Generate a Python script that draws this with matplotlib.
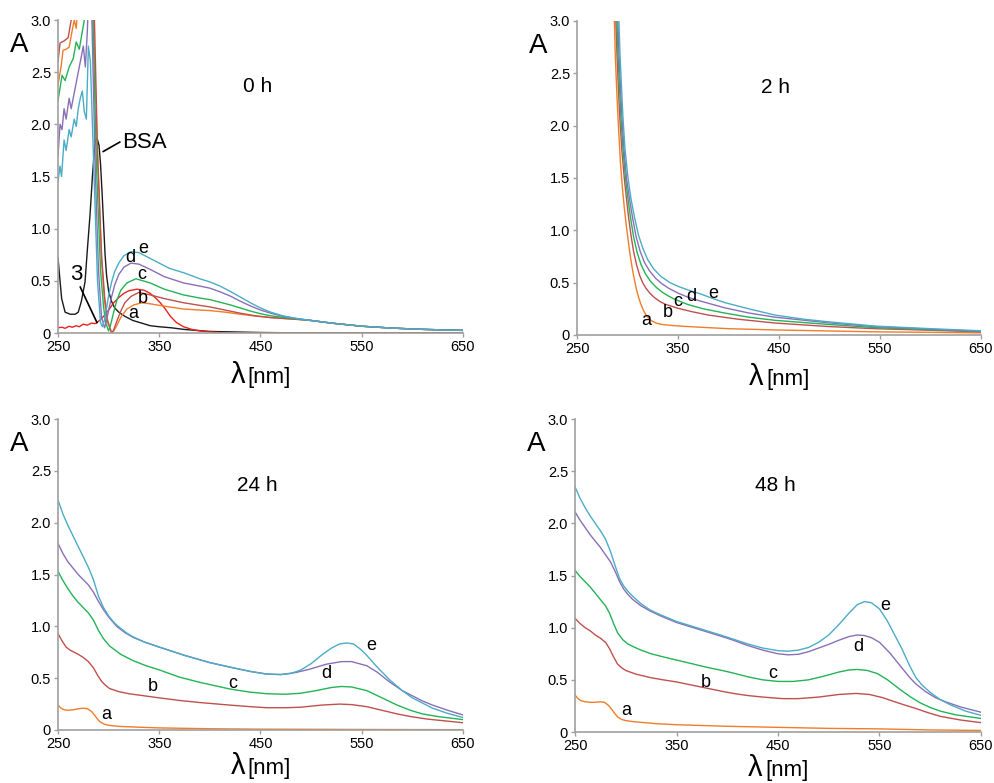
import matplotlib
matplotlib.use('Agg')
import matplotlib.pyplot as plt

plt.rcParams['font.family'] = ['Liberation Sans', 'DejaVu Sans']

# colours of the series (a..e, compound 3, BSA)
col_a = '#F07D28'
col_b = '#C0504D'
col_c = '#22B455'
col_d = '#8A6FB8'
col_e = '#4BACC6'
col_3 = '#E8231F'
col_bsa = '#1A1A1A'

xticks = [250, 350, 450, 550, 650]
yticks = [0, 0.5, 1.0, 1.5, 2.0, 2.5, 3.0]
ytick_labels = ['0', '0.5', '1.0', '1.5', '2.0', '2.5', '3.0']

# shared tail of the 0 h curves (500-650 nm)
h0_tail_nm = [520, 550, 580, 610, 650]
h0_tail_abs = [0.095, 0.065, 0.047, 0.035, 0.025]

# ---- 0 h ----
h0_a_nm = [250, 253, 255, 258, 261, 264, 266, 268, 270, 275, 280, 285, 289, 293, 296, 299, 303, 305, 308, 312, 318,
           325, 333, 341, 350, 360, 374, 390, 400, 415, 430, 445, 460, 475, 490, 500] + h0_tail_nm
h0_a_abs = [2.38, 2.55, 2.71, 2.72, 2.74, 2.9, 3.0, 2.92, 3.2, 3.2, 3.2, 3.0, 1.7, 0.7, 0.3, 0.1, 0.0, 0.02, 0.07, 0.15, 0.23,
            0.27, 0.29, 0.28, 0.265, 0.25, 0.23, 0.22, 0.215, 0.2, 0.18, 0.162, 0.148, 0.138, 0.128, 0.12] + h0_tail_abs
h0_b_nm = [250, 252, 256, 260, 263, 265, 284, 286, 289, 293, 296, 299, 303, 305, 308, 312, 316, 322, 330, 341, 355, 374,
           390, 400, 415, 430, 445, 460, 475, 490, 500] + h0_tail_nm
h0_b_abs = [2.6, 2.78, 2.8, 2.83, 3.0, 3.2, 3.2, 3.0, 1.75, 0.75, 0.35, 0.12, 0.0, 0.03, 0.11, 0.21, 0.29, 0.35, 0.39, 0.365, 0.33, 0.29,
            0.265, 0.25, 0.22, 0.19, 0.165, 0.148, 0.138, 0.128, 0.12] + h0_tail_abs
h0_c_nm = [250, 254, 257, 261, 265, 268, 271, 274, 276, 278, 283, 284.5, 288, 292, 295, 297, 300, 302, 305, 308, 312,
           318, 327, 341, 355, 374, 390, 400, 410, 420, 430, 440, 450, 460, 472, 485, 500] + h0_tail_nm
h0_c_abs = [2.23, 2.47, 2.42, 2.55, 2.63, 2.79, 2.72, 2.89, 3.0, 3.2, 3.2, 3.0, 1.6, 0.6, 0.25, 0.1, 0.02, 0.08, 0.2, 0.31, 0.41,
            0.48, 0.52, 0.48, 0.42, 0.365, 0.335, 0.32, 0.295, 0.27, 0.24, 0.21, 0.185, 0.165, 0.15, 0.135, 0.12] + h0_tail_abs
h0_d_nm = [250, 252, 254, 256, 258, 261, 263, 266, 269, 272, 275, 277, 279, 280, 282, 283.5, 287, 290, 293, 296,
           298, 300, 303, 306, 310, 315, 322, 330, 341, 355, 374, 390, 400, 410, 420, 430, 440, 450, 460, 472, 485, 500] + h0_tail_nm
h0_d_abs = [1.7, 2.0, 1.95, 2.15, 2.05, 2.25, 2.15, 2.3, 2.45, 2.6, 2.75, 2.55, 2.9, 3.2, 3.2, 3.0, 1.5, 0.6, 0.15, 0.05,
            0.12, 0.22, 0.35, 0.46, 0.56, 0.63, 0.67, 0.66, 0.61, 0.54, 0.48, 0.45, 0.43, 0.395, 0.355, 0.305, 0.26, 0.22,
            0.19, 0.16, 0.14, 0.12] + h0_tail_abs
h0_e_nm = [250, 252, 253.5, 256, 258, 261, 263, 266, 268, 270, 272, 274, 276, 278, 280, 282, 286, 289, 292, 294,
           296, 298, 300, 303, 306, 310, 315, 322, 330, 340, 350, 360, 375, 390, 400, 410, 420, 430, 440, 450, 460, 472,
           485, 500] + h0_tail_nm
h0_e_abs = [1.45, 1.6, 1.5, 1.85, 1.75, 1.95, 1.88, 2.05, 1.98, 2.15, 2.25, 2.32, 2.12, 2.05, 2.75, 2.6, 1.4, 0.5, 0.1, 0.06,
            0.13, 0.24, 0.36, 0.49, 0.59, 0.67, 0.74, 0.78, 0.77, 0.72, 0.67, 0.62, 0.575, 0.52, 0.49, 0.45, 0.40, 0.345,
            0.29, 0.24, 0.2, 0.165, 0.14, 0.12] + h0_tail_abs
h0_3_nm = [250, 254, 257, 261, 264, 268, 271, 275, 279, 283, 287, 291, 296, 300, 305, 310, 315, 320, 328, 335, 341,
           346, 351, 356, 361, 367, 374, 382, 390, 400, 410, 450, 650]
h0_3_abs = [0.05, 0.055, 0.045, 0.065, 0.055, 0.07, 0.06, 0.085, 0.075, 0.095, 0.09, 0.12, 0.17, 0.22, 0.29, 0.34, 0.38, 0.405,
            0.42, 0.41, 0.38, 0.34, 0.29, 0.23, 0.16, 0.10, 0.06, 0.035, 0.02, 0.01, 0.004, 0.0, 0.0]
h0_bsa_nm = [250, 252, 253.6, 257, 262, 267, 270, 273, 276.7, 279, 281.6, 284, 286.5, 288.5, 290.5, 292, 293.5, 295, 296.5,
             298, 300, 303, 306, 310, 316, 324, 332.6, 341, 350, 362, 374, 400, 450, 500, 650]
h0_bsa_abs = [0.72, 0.5, 0.33, 0.2, 0.18, 0.18, 0.2, 0.3, 0.49, 0.8, 1.13, 1.5, 1.83, 1.87, 1.8, 1.62, 1.35, 1.05, 0.75,
              0.55, 0.40, 0.3, 0.24, 0.2, 0.16, 0.12, 0.095, 0.07, 0.06, 0.05, 0.035, 0.015, 0.005, 0.0, 0.0]

# ---- 2 h ----
h2_a_nm = [287, 288, 289.5, 291, 293, 295, 297, 299, 301, 303, 305, 307, 309, 311, 313, 316, 319, 323, 328, 334, 345,
           357, 380, 400, 446, 500, 545, 600, 650]
h2_a_abs = [3.0, 2.65, 2.3, 2.0, 1.65, 1.4, 1.2, 1.03, 0.88, 0.74, 0.62, 0.52, 0.43, 0.36, 0.3, 0.23, 0.18, 0.14, 0.115,
            0.1, 0.09, 0.082, 0.07, 0.06, 0.048, 0.038, 0.03, 0.025, 0.02]
h2_b_nm = [288.5, 289.5, 291, 292.5, 294.5, 297, 299, 301, 303.5, 306, 309, 312, 315, 318, 322, 327, 332, 337, 350, 365,
           380, 410, 446, 500, 545, 600, 650]
h2_b_abs = [3.0, 2.7, 2.35, 2.05, 1.75, 1.48, 1.3, 1.13, 0.95, 0.8, 0.67, 0.57, 0.5, 0.45, 0.4, 0.355, 0.32, 0.295, 0.255,
            0.22, 0.19, 0.15, 0.114, 0.08, 0.06, 0.045, 0.03]
h2_c_nm = [289.5, 290.5, 292, 293.5, 295.5, 298, 300.5, 303, 306, 309.5, 313.5, 318, 323, 329, 335, 341, 347, 360, 375,
           396, 420, 446, 500, 545, 600, 650]
h2_c_abs = [3.0, 2.7, 2.38, 2.08, 1.78, 1.5, 1.3, 1.12, 0.94, 0.79, 0.67, 0.58, 0.51, 0.45, 0.405, 0.37, 0.34, 0.29, 0.25,
            0.21, 0.17, 0.14, 0.1, 0.07, 0.05, 0.035]
h2_d_nm = [290.5, 291.5, 293, 294.5, 296.5, 299, 302, 305, 308.5, 312.5, 317, 322, 328, 334, 341, 350, 360, 370, 383, 396,
           420, 446, 500, 545, 600, 650]
h2_d_abs = [3.0, 2.7, 2.38, 2.08, 1.78, 1.5, 1.3, 1.12, 0.94, 0.8, 0.69, 0.61, 0.54, 0.49, 0.445, 0.4, 0.36, 0.33, 0.295,
            0.26, 0.21, 0.17, 0.115, 0.08, 0.055, 0.035]
h2_e_nm = [291.5, 292.5, 294, 295.5, 297.5, 300.5, 303.5, 307, 311, 315.5, 320, 326, 333, 342, 350, 357, 365, 373, 384,
           396, 420, 446, 475, 500, 545, 600, 650]
h2_e_abs = [3.0, 2.7, 2.38, 2.08, 1.78, 1.5, 1.3, 1.12, 0.95, 0.82, 0.72, 0.63, 0.56, 0.5, 0.465, 0.44, 0.415, 0.39, 0.35,
            0.31, 0.25, 0.19, 0.15, 0.125, 0.085, 0.06, 0.04]

# ---- 24 h ----
h24_a_nm = [250, 253, 256, 260, 265, 270, 275, 279, 283, 286, 289, 292, 296, 300, 310, 330, 350, 400, 450, 550, 650]
h24_a_abs = [0.24, 0.21, 0.195, 0.19, 0.195, 0.205, 0.21, 0.205, 0.18, 0.145, 0.105, 0.075, 0.055, 0.045, 0.035, 0.027,
             0.02, 0.012, 0.008, 0.005, 0.003]
h24_b_nm = [250, 254, 258, 262, 266, 270, 275, 280, 285, 289, 293, 297, 301, 310, 320, 335, 350, 370, 390, 420, 440, 456,
            475, 490, 510, 528, 540, 555, 570, 585, 598, 615, 630, 650]
h24_b_abs = [0.93, 0.86, 0.80, 0.77, 0.75, 0.73, 0.70, 0.66, 0.60, 0.53, 0.47, 0.43, 0.40, 0.37, 0.35, 0.33, 0.31, 0.285,
             0.265, 0.24, 0.225, 0.215, 0.215, 0.22, 0.24, 0.25, 0.245, 0.225, 0.19, 0.155, 0.13, 0.105, 0.09, 0.07]
h24_c_nm = [250, 255, 260, 265, 270, 275, 280, 285, 290, 295, 301, 312, 324, 337, 350, 370, 390, 420, 440, 456, 475, 490,
            505, 520, 530, 540, 555, 570, 585, 598, 610, 625, 650]
h24_c_abs = [1.53, 1.44, 1.36, 1.29, 1.23, 1.18, 1.13, 1.06, 0.96, 0.88, 0.81, 0.73, 0.67, 0.62, 0.58, 0.51, 0.46, 0.395,
             0.365, 0.35, 0.345, 0.355, 0.38, 0.41, 0.42, 0.415, 0.38, 0.31, 0.24, 0.19, 0.155, 0.13, 0.10]
h24_d_nm = [250, 255, 260, 265, 270, 275, 280, 285, 290, 295, 300, 308, 316, 324, 335, 350, 375, 400, 423, 440, 456, 470,
            485, 498, 515, 530, 540, 555, 565, 578, 590, 600, 610, 620, 635, 650]
h24_d_abs = [1.80, 1.70, 1.62, 1.56, 1.50, 1.45, 1.40, 1.33, 1.24, 1.16, 1.09, 1.0, 0.94, 0.895, 0.85, 0.80, 0.72, 0.65,
             0.60, 0.565, 0.54, 0.535, 0.555, 0.585, 0.635, 0.66, 0.66, 0.62, 0.56, 0.46, 0.38, 0.33, 0.28, 0.24, 0.19, 0.145]
h24_e_nm = [250, 255, 260, 265, 270, 275, 280, 285, 290, 295, 300, 306, 312, 318, 324, 335, 350, 375, 400, 423, 440, 456,
            470, 480, 490, 500, 510, 520, 528, 535, 542, 550, 555, 565, 578, 590, 600, 610, 620, 635, 650]
h24_e_abs = [2.22, 2.08, 1.97, 1.87, 1.77, 1.67, 1.57, 1.45, 1.29, 1.18, 1.10, 1.03, 0.98, 0.935, 0.90, 0.85, 0.80, 0.72,
             0.65, 0.60, 0.565, 0.54, 0.535, 0.545, 0.58, 0.64, 0.72, 0.79, 0.83, 0.84, 0.83, 0.77, 0.72, 0.61, 0.48, 0.38,
             0.31, 0.26, 0.21, 0.16, 0.12]

# ---- 48 h ----
h48_a_nm = [250, 253, 256, 260, 265, 270, 275, 279, 283, 286, 289, 292, 296, 300, 307, 330, 350, 400, 449, 500, 550, 600, 650]
h48_a_abs = [0.355, 0.32, 0.30, 0.29, 0.285, 0.285, 0.29, 0.285, 0.255, 0.22, 0.18, 0.145, 0.12, 0.11, 0.10, 0.08, 0.07,
             0.055, 0.045, 0.035, 0.03, 0.02, 0.015]
h48_b_nm = [250, 255, 260, 265, 270, 275, 280, 284, 288, 292, 296, 300, 310, 325, 337, 350, 365, 380, 395, 406, 420, 435,
            455, 470, 490, 510, 527, 540, 553, 565, 576, 586, 598, 610, 630, 650]
h48_b_abs = [1.09, 1.04, 1.00, 0.97, 0.93, 0.90, 0.86, 0.80, 0.72, 0.65, 0.615, 0.59, 0.555, 0.52, 0.50, 0.48, 0.45, 0.42,
             0.39, 0.37, 0.35, 0.335, 0.32, 0.32, 0.335, 0.36, 0.37, 0.36, 0.33, 0.29, 0.255, 0.225, 0.185, 0.15, 0.115, 0.09]
h48_c_nm = [250, 255, 260, 265, 270, 275, 280, 284, 288, 292, 297, 302, 307, 315, 325, 337, 350, 365, 380, 395, 406, 420,
            435, 450, 465, 480, 495, 510, 520, 528, 538, 548, 558, 570, 580, 590, 600, 610, 625, 650]
h48_c_abs = [1.55, 1.49, 1.44, 1.39, 1.33, 1.27, 1.21, 1.14, 1.04, 0.95, 0.885, 0.845, 0.82, 0.785, 0.75, 0.72, 0.69, 0.655,
             0.62, 0.59, 0.565, 0.53, 0.50, 0.485, 0.485, 0.50, 0.535, 0.575, 0.595, 0.60, 0.59, 0.56, 0.50, 0.41, 0.34,
             0.28, 0.235, 0.20, 0.165, 0.13]
h48_d_nm = [250, 255, 260, 265, 270, 275, 280, 285, 290, 294, 298, 302, 307, 315, 324, 335, 350, 365, 380, 395, 406, 420,
            435, 450, 460, 470, 480, 490, 500, 510, 520, 528, 535, 542, 550, 560, 570, 580, 586, 595, 605, 615, 630, 650]
h48_d_abs = [2.11, 2.03, 1.96, 1.89, 1.83, 1.77, 1.70, 1.63, 1.53, 1.44, 1.37, 1.32, 1.27, 1.21, 1.16, 1.11, 1.05, 1.005,
             0.96, 0.915, 0.88, 0.83, 0.785, 0.75, 0.74, 0.745, 0.77, 0.805, 0.84, 0.88, 0.915, 0.93, 0.925, 0.905, 0.86,
             0.76, 0.64, 0.52, 0.46, 0.39, 0.33, 0.29, 0.24, 0.19]
h48_e_nm = [250, 255, 260, 265, 270, 275, 280, 285, 290, 294, 298, 302, 307, 315, 324, 335, 350, 365, 380, 395, 406, 420,
            435, 450, 460, 470, 480, 490, 500, 510, 520, 528, 535, 542, 550, 558, 565, 572, 580, 586, 592, 600, 610, 620,
            635, 650]
h48_e_abs = [2.35, 2.24, 2.15, 2.07, 2.0, 1.93, 1.85, 1.73, 1.58, 1.47, 1.40, 1.35, 1.30, 1.23, 1.17, 1.12, 1.06, 1.015,
             0.97, 0.925, 0.89, 0.845, 0.805, 0.78, 0.775, 0.785, 0.81, 0.86, 0.93, 1.03, 1.14, 1.22, 1.25, 1.24, 1.18,
             1.06, 0.93, 0.80, 0.63, 0.52, 0.45, 0.38, 0.31, 0.26, 0.20, 0.16]

fig = plt.figure(figsize=(9.95, 7.83), dpi=100)
ax0 = fig.add_axes([0.0583, 0.5747, 0.407, 0.3997])
ax2 = fig.add_axes([0.5799, 0.5722, 0.406, 0.401])
ax24 = fig.add_axes([0.0583, 0.0677, 0.407, 0.397])
ax48 = fig.add_axes([0.5779, 0.0651, 0.408, 0.3997])


def style(ax, title, lab_y):
    ax.set_xlim(250, 650)
    ax.set_ylim(0, 3.0)
    for s in ['top', 'right']:
        ax.spines[s].set_visible(False)
    for s in ['left', 'bottom']:
        ax.spines[s].set_color('#A0A0A0')
        ax.spines[s].set_linewidth(1.2)
    ax.set_xticks(xticks)
    ax.set_yticks(yticks)
    ax.set_yticklabels(ytick_labels)
    ax.tick_params(length=3, width=1, color='#A0A0A0', labelsize=10.5, pad=2)
    ax.text(447, 2.36, title, fontsize=15, ha='center', va='center')
    ax.text(-0.095, 0.92, 'A', fontsize=20, ha='center', va='center', transform=ax.transAxes)
    ax.text(0.462, lab_y, 'λ', fontsize=21, ha='right', va='baseline', transform=ax.transAxes)
    ax.text(0.468, lab_y, '[nm]', fontsize=16, ha='left', va='baseline', transform=ax.transAxes)


def curves(ax, series):
    for nm, ab, c in series:
        ax.plot(nm, ab, color=c, lw=1.0)


def letters(ax, pos):
    for t, (x, y) in zip('abcde', pos):
        ax.text(x, y, t, fontsize=13, ha='center', va='center')


curves(ax0, [(h0_bsa_nm, h0_bsa_abs, col_bsa), (h0_3_nm, h0_3_abs, col_3), (h0_a_nm, h0_a_abs, col_a),
             (h0_b_nm, h0_b_abs, col_b), (h0_c_nm, h0_c_abs, col_c), (h0_d_nm, h0_d_abs, col_d),
             (h0_e_nm, h0_e_abs, col_e)])
style(ax0, '0 h', -0.16)
letters(ax0, [(324, 0.19), (334, 0.33), (333, 0.56), (321, 0.72), (334, 0.81)])
ax0.text(313, 1.83, 'BSA', fontsize=16, ha='left', va='center')
ax0.plot([294.7, 311], [1.74, 1.83], color='black', lw=1.2)
ax0.text(268, 0.565, '3', fontsize=16, ha='center', va='center')
ax0.plot([272, 288.5], [0.44, 0.10], color='black', lw=1.2)

curves(ax2, [(h2_a_nm, h2_a_abs, col_a), (h2_b_nm, h2_b_abs, col_b), (h2_c_nm, h2_c_abs, col_c),
             (h2_d_nm, h2_d_abs, col_d), (h2_e_nm, h2_e_abs, col_e)])
style(ax2, '2 h', -0.16)
letters(ax2, [(318.5, 0.143), (340, 0.21), (350, 0.32), (363.5, 0.37), (385, 0.40)])

curves(ax24, [(h24_a_nm, h24_a_abs, col_a), (h24_b_nm, h24_b_abs, col_b), (h24_c_nm, h24_c_abs, col_c),
              (h24_d_nm, h24_d_abs, col_d), (h24_e_nm, h24_e_abs, col_e)])
style(ax24, '24 h', -0.14)
letters(ax24, [(298, 0.145), (344, 0.42), (423, 0.45), (515, 0.55), (559, 0.82)])

curves(ax48, [(h48_a_nm, h48_a_abs, col_a), (h48_b_nm, h48_b_abs, col_b), (h48_c_nm, h48_c_abs, col_c),
              (h48_d_nm, h48_d_abs, col_d), (h48_e_nm, h48_e_abs, col_e)])
style(ax48, '48 h', -0.14)
letters(ax48, [(300, 0.21), (379, 0.47), (445, 0.565), (529, 0.82), (555.5, 1.21)])

plt.savefig('out.png', dpi=100)
